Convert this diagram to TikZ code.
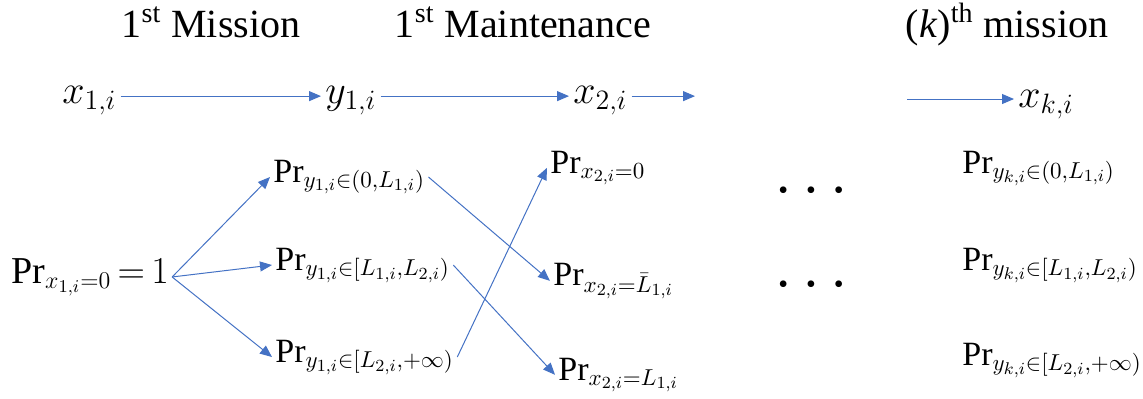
\documentclass[tikz,border=0pt]{standalone}
\usepackage{fix-cm}
\usepackage{amsmath}
\usepackage{fontspec}
\setmainfont{Liberation Serif}
\usetikzlibrary{arrows.meta}
\definecolor{FlowBlue}{HTML}{4472C4}
\DeclareMathSizes{17}{17}{11.5}{8.5}
\DeclareMathSizes{19}{19}{12}{9}
\tikzset{
  headlabel/.style={font=\fontsize{20}{24}\selectfont, anchor=base},
  varlabel/.style={font=\fontsize{20}{24}\selectfont, anchor=base west, inner sep=2pt},
  problabel/.style={font=\fontsize{17}{21}\selectfont, anchor=base west, inner sep=1.5pt},
  dotlabel/.style={font=\fontsize{14}{16}\selectfont},
  flowarrow/.style={-{Triangle[length=6pt,width=5pt]}, line width=0.5pt, draw=FlowBlue}
}
\newcommand{\probof}[1]{\text{Pr}_{#1}}
\newcommand{\threedots}{\textbullet\hspace{9pt}\textbullet\hspace{9pt}\textbullet}

\begin{document}
\begin{tikzpicture}[x=0.5pt, y=-0.5pt]
\useasboundingbox (0,0) rectangle (1143,398);
% headings
\node[headlabel] (hmis) at (211,37) {1\textsuperscript{st} Mission};
\node[headlabel] (hmnt) at (523,37) {1\textsuperscript{st} Maintenance};
\node[headlabel] (hkth) at (1007,37) {(\textit{k})\textsuperscript{th} mission};
% states
\node[varlabel] (x1) at (58,103) {$x_{1,i}$};
\node[varlabel] (y1) at (321,103) {$y_{1,i}$};
\node[varlabel] (x2) at (569,103) {$x_{2,i}$};
\node[varlabel] (xk) at (1014,107) {$x_{k,i}$};
\coordinate (gapL) at (695,95);
\coordinate (gapR) at (907,99);
\draw[flowarrow] ([yshift=2pt]x1.east) -- ([yshift=2pt]y1.west);
\draw[flowarrow] ([yshift=2pt]y1.east) -- ([yshift=2pt]x2.west);
\draw[flowarrow] ([yshift=2pt]x2.east) -- ([yshift=2pt]x2.east -| gapL);
\draw[flowarrow] (gapR) -- (gapR -| xk.west);
% probabilities
\node[problabel, font=\fontsize{19}{23}\selectfont] (p0) at (8,283) {$\probof{x_{1,i}=0}\,{=}\,1$};
\node[problabel] (pa) at (270,182) {$\probof{y_{1,i}\in\left(0,L_{1,i}\right)}$};
\node[problabel] (pb) at (272,270) {$\probof{y_{1,i}\in\left[L_{1,i},L_{2,i}\right)}$};
\node[problabel] (pc) at (272,362) {$\probof{y_{1,i}\in\left[L_{2,i},+\infty\right)}$};
\node[problabel] (qa) at (547,173) {$\probof{x_{2,i}=0}$};
\node[problabel] (qb) at (550,285) {$\probof{x_{2,i}=\bar{L}_{1,i}}$};
\node[problabel] (qc) at (555,380) {$\probof{x_{2,i}=L_{1,i}}$};
\node[problabel] (ra) at (959,173) {$\probof{y_{k,i}\in\left(0,L_{1,i}\right)}$};
\node[problabel] (rb) at (959,270) {$\probof{y_{k,i}\in\left[L_{1,i},L_{2,i}\right)}$};
\node[problabel] (rc) at (959,365) {$\probof{y_{k,i}\in\left[L_{2,i},+\infty\right)}$};
\node[dotlabel] (dotsa) at (811,193) {\threedots};
\node[dotlabel] (dotsb) at (811,287) {\threedots};
\draw[flowarrow] (p0.east) -- (pa.west);
\draw[flowarrow] (p0.east) -- (pb.west);
\draw[flowarrow] (p0.east) -- (pc.west);
\draw[flowarrow] (pa.east) -- (qb.west);
\draw[flowarrow] (pb.east) -- (qc.west);
\draw[flowarrow] (pc.east) -- (qa.west);
\end{tikzpicture}
\end{document}
